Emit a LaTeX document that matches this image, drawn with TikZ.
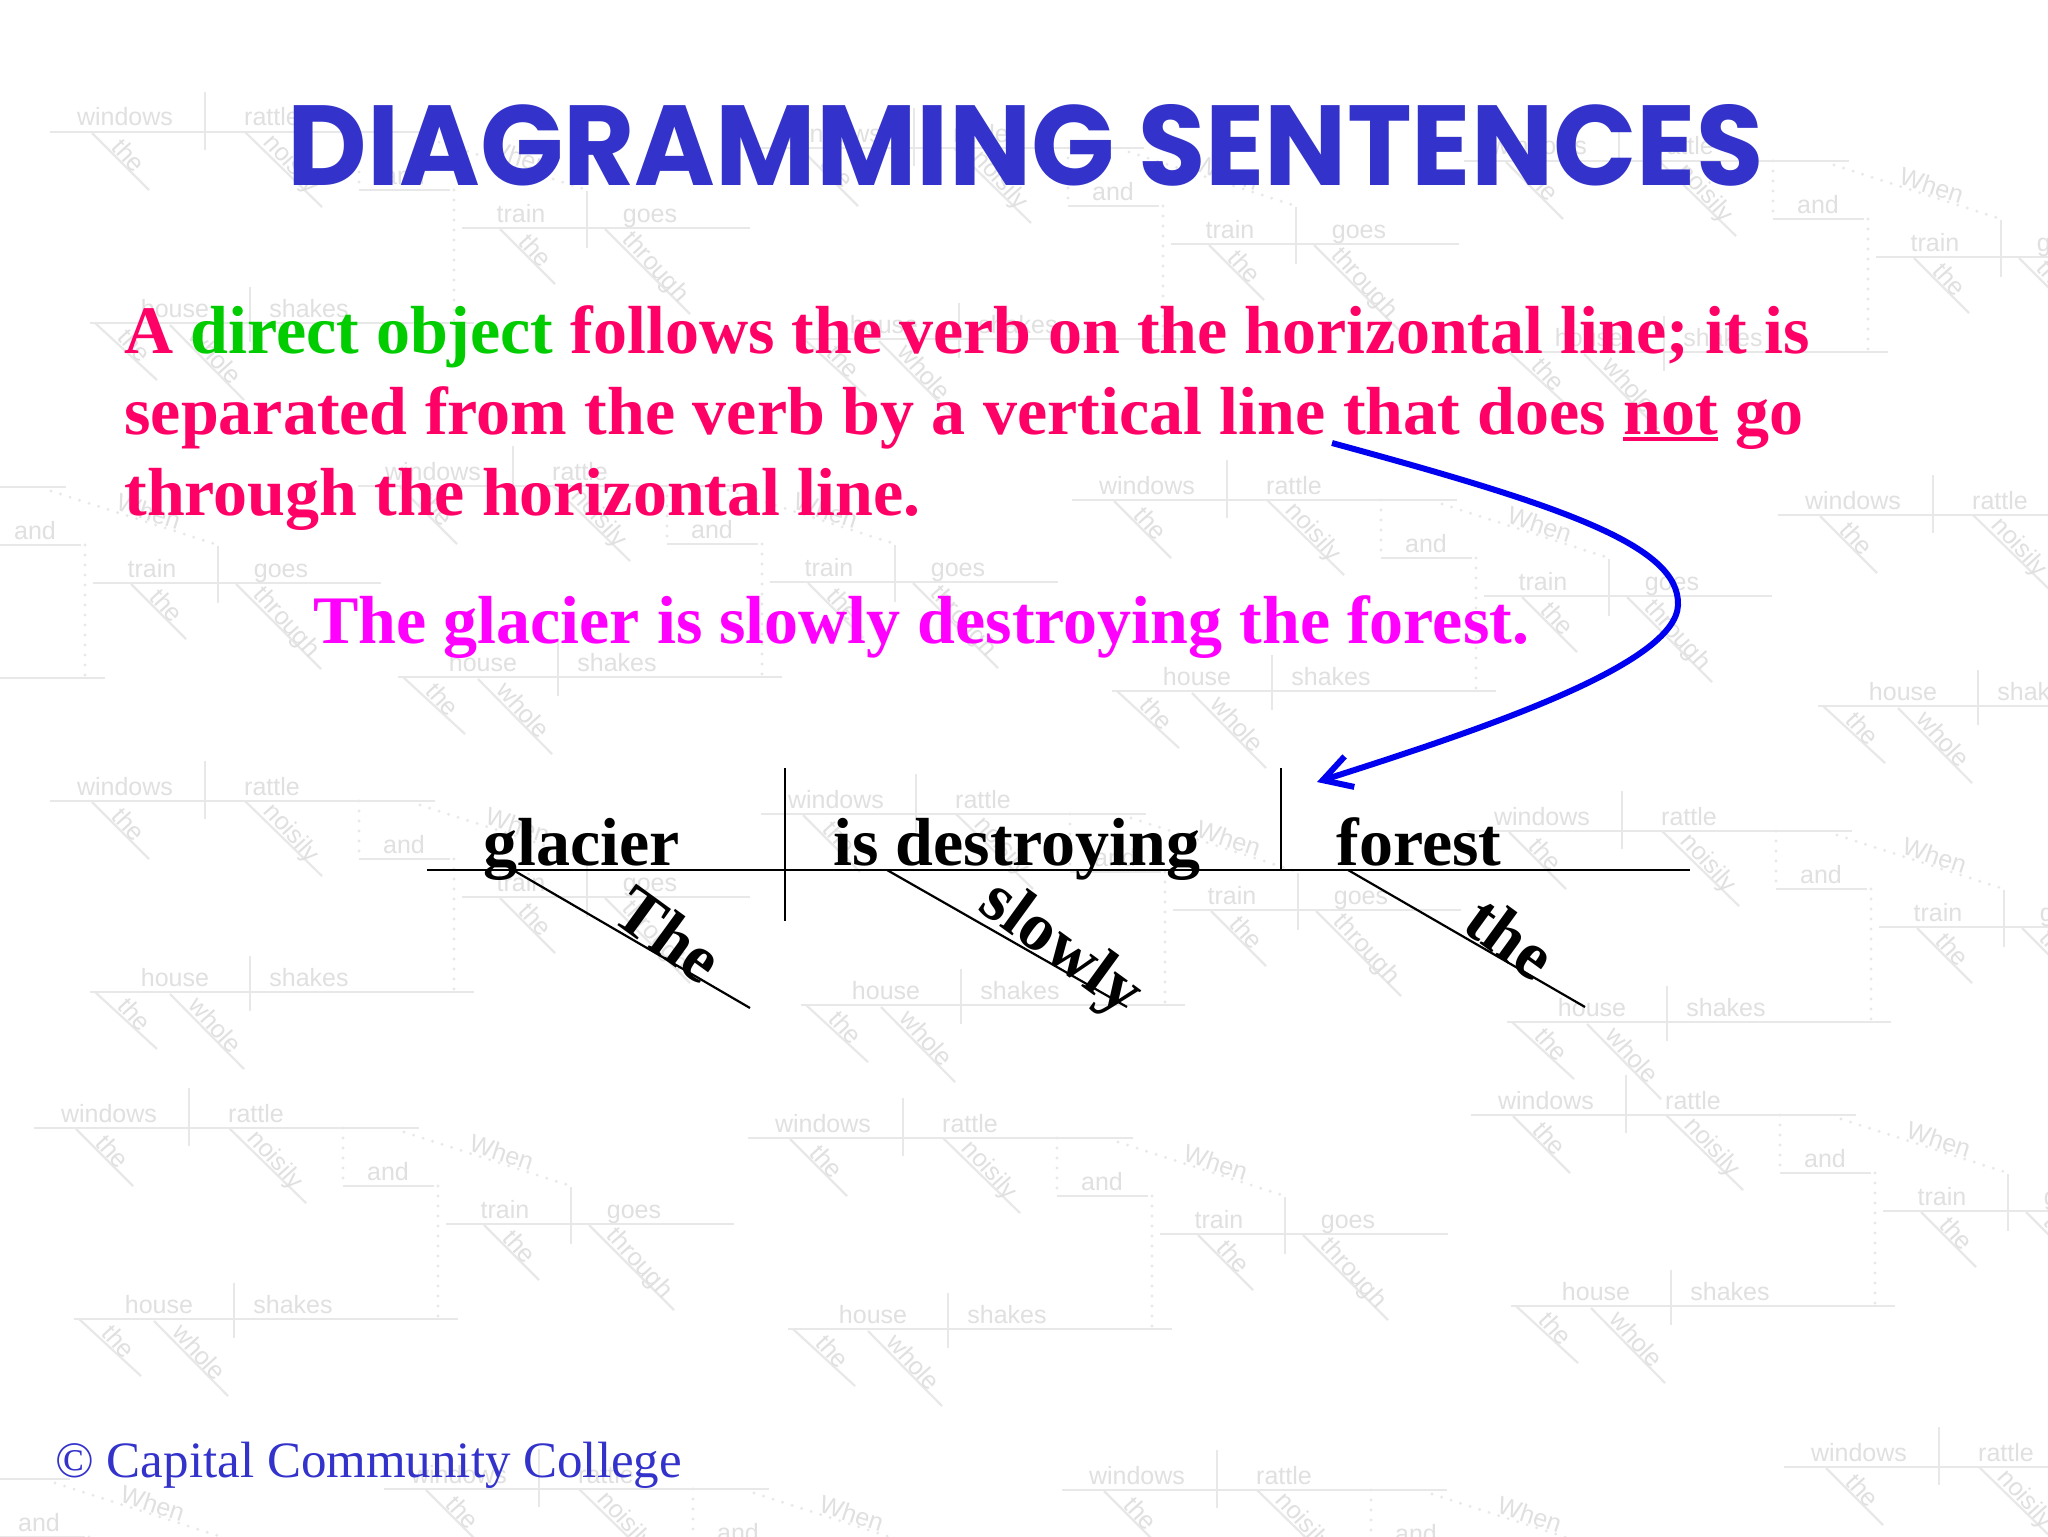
\documentclass[tikz,border=0pt]{standalone}
\usepackage{fontspec}
\setmainfont{Liberation Serif}
\newfontfamily\titlefont{Poppins}
\newfontfamily\bgfont{Liberation Sans}
\usetikzlibrary{arrows.meta}
\definecolor{titleblue}{RGB}{51,51,204}
\definecolor{pinkred}{RGB}{255,0,102}
\definecolor{dogreen}{RGB}{0,204,0}
\definecolor{sentmag}{RGB}{255,0,255}
\definecolor{arrowblue}{RGB}{0,0,240}
\definecolor{bgline}{RGB}{232,232,232}
\definecolor{bgtext}{RGB}{224,224,224}
\newcommand\thickul[1]{\setbox0\hbox{#1}\rlap{\rule[-3.5pt]{\wd0}{2pt}}\box0\relax}
\tikzset{
  bglinestyle/.style={draw=bgline, line width=1.1pt},
  bgdotstyle/.style={draw=bgline, line width=1.6pt, line cap=round, dash pattern=on 0pt off 5pt},
  bgword/.style={text=bgtext, font=\bgfont\fontsize{12.5}{14}\selectfont, inner sep=0},
  bgtile/.pic={
    \draw[bglinestyle] (0,0) -- (385,0);
    \draw[bglinestyle] (155,-40) -- (155,18);
    \draw[bglinestyle] (42,1) -- (99,58);
    \draw[bglinestyle] (195,0) -- (272,75);
    \draw[bgdotstyle] (309,0) -- (309,58);
    \draw[bglinestyle] (309,58) -- (400,58);
    \draw[bgdotstyle] (404,58) -- (404,188);
    \draw[bglinestyle] (40,191) -- (424,191);
    \draw[bglinestyle] (200,155) -- (200,210);
    \draw[bglinestyle] (45,191) -- (107,248);
    \draw[bglinestyle] (120,193) -- (194,268);
    \draw[bgdotstyle] (370,4) -- (537,58);
    \draw[bglinestyle] (412,96) -- (700,96);
    \draw[bglinestyle] (537,59) -- (537,116);
    \draw[bglinestyle] (450,97) -- (505,152);
    \draw[bglinestyle] (555,97) -- (640,182);
    \node[bgword, anchor=base] (-windows) at (75,-6) {windows};
    \node[bgword, anchor=base] (-rattle) at (222,-6) {rattle};
    \node[bgword, anchor=base, rotate=-48] (-the1) at (72,29) {the};
    \node[bgword, anchor=base, rotate=-48] (-noisily) at (236,37) {noisily};
    \node[bgword, anchor=base] (-and) at (354,52) {and};
    \node[bgword, anchor=base] (-house) at (125,185) {house};
    \node[bgword, anchor=base] (-shakes) at (259,185) {shakes};
    \node[bgword, anchor=base, rotate=-48] (-the2) at (78,219) {the};
    \node[bgword, anchor=base, rotate=-48] (-whole) at (159,230) {whole};
    \node[bgword, anchor=base, rotate=-18] (-when) at (465,33) {When};
    \node[bgword, anchor=base] (-train) at (471,90) {train};
    \node[bgword, anchor=base] (-goes) at (600,90) {goes};
    \node[bgword, anchor=base, rotate=-48] (-the3) at (479,124) {the};
    \node[bgword, anchor=base, rotate=-48] (-through) at (600,140) {through};
  },
  bodytext/.style={text=pinkred, font=\fontsize{34}{40}\selectfont\bfseries, inner sep=0, anchor=base west},
  wordstyle/.style={text=black, font=\fontsize{34}{40}\selectfont\bfseries, inner sep=0},
  diagline/.style={draw=black, line width=1.1pt},
  bluearrow/.style={draw=arrowblue, line width=3pt, -{Straight Barb[length=14pt,width=16pt]}},
}
\begin{document}
\begin{tikzpicture}[x=0.5pt,y=-0.5pt]
\fill[white] (0,0) rectangle (2048,1536);
\useasboundingbox (0,0) rectangle (2048,1536);

% faint background texture
\begin{scope}
\clip (0,0) rectangle (2048,1536);
\pic (t1) at (50,132) {bgtile};
\pic (t2) at (759,148) {bgtile};
\pic (t3) at (1464,161) {bgtile};
\pic (t4) at (-319,487) {bgtile};
\pic (t5) at (358,486) {bgtile};
\pic (t6) at (1072,500) {bgtile};
\pic (t7) at (1778,515) {bgtile};
\pic (t8) at (50,801) {bgtile};
\pic (t9) at (761,814) {bgtile};
\pic (t10) at (1467,831) {bgtile};
\pic (t11) at (34,1128) {bgtile};
\pic (t12) at (748,1138) {bgtile};
\pic (t13) at (1471,1115) {bgtile};
\pic (t14) at (-315,1479) {bgtile};
\pic (t15) at (384,1489) {bgtile};
\pic (t16) at (1062,1490) {bgtile};
\pic (t17) at (1784,1467) {bgtile};
\end{scope}

% title
\node[inner sep=0, anchor=base west, text=titleblue] (title) at (287,185)
  {\resizebox{738pt}{40.5pt}{\titlefont\bfseries DIAGRAMMING SENTENCES}};

% explanation
\node[bodytext] (line1) at (124,353) {A \textcolor{dogreen}{direct object} follows the verb on the horizontal line; it is};
\node[bodytext] (line2) at (124,434) {\makebox[839.5pt][s]{separated from the verb by a vertical line that does \thickul{not} go}};
\node[bodytext] (line3) at (124,515) {through the horizontal line.};

% example sentence
\node[bodytext, text=sentmag] (sentence) at (313,643) {The glacier is slowly destroying the forest.};

% diagram
\coordinate (hl) at (427,870);
\coordinate (hr) at (1690,870);
\coordinate (v1t) at (785,768);
\coordinate (v1b) at (785,921);
\coordinate (v2t) at (1281,768);
\coordinate (v2b) at (1281,870);
\coordinate (d1s) at (513,870);
\coordinate (d1e) at (750,1008);
\coordinate (d2s) at (887,870);
\coordinate (d2e) at (1127,1007);
\coordinate (d3s) at (1348,870);
\coordinate (d3e) at (1585,1007);
\draw[diagline] (hl) -- (hr);
\draw[diagline] (v1t) -- (v1b);
\draw[diagline] (v2t) -- (v2b);
\draw[diagline] (d1s) -- (d1e) node[wordstyle, pos=0.6, anchor=base, rotate=-36] (wThe) {The};
\draw[diagline] (d2s) -- (d2e) node[wordstyle, pos=0.68, anchor=base, rotate=-36] (wslowly) {slowly};
\draw[diagline] (d3s) -- (d3e) node[wordstyle, pos=0.63, anchor=base, rotate=-36] (wthe) {the};
\node[wordstyle, anchor=base west] (wglacier) at (483,865) {glacier};
\node[wordstyle, anchor=base west] (wverb) at (833,865) {is destroying};
\node[wordstyle, anchor=base west] (wforest) at (1336,865) {forest};

% curved arrow
\coordinate (arrstart) at (1332,443);
\coordinate (arrtip) at (1317,782);
\draw[bluearrow] (arrstart) .. controls (1560,505) and (1680,545) .. (1678,605)
  .. controls (1676,665) and (1480,730) .. (arrtip);

% footer
\node[inner sep=0, anchor=base west, text=titleblue, font=\fontsize{25.5}{30}\selectfont] (footer) at (55,1477) {\textcopyright\ Capital Community College};
\end{tikzpicture}
\end{document}
